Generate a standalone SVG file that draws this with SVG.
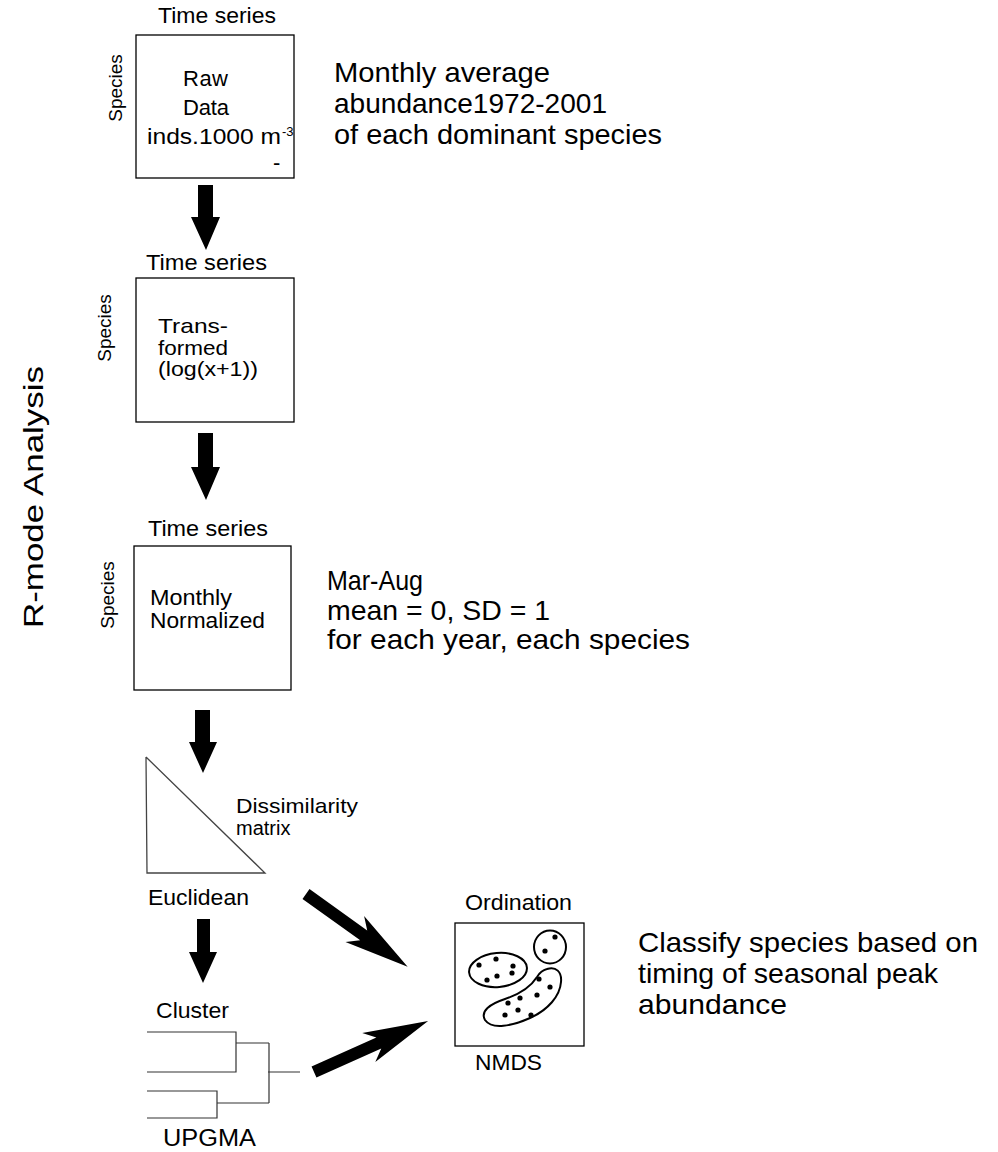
<svg xmlns="http://www.w3.org/2000/svg" width="998" height="1152" viewBox="0 0 998 1152">
<style>
text{font-family:"Liberation Sans",Arial,Helvetica,sans-serif;fill:#000}
.lbl{font-size:22px}
.tight{font-size:21px}
.big{font-size:28px}
.sp{font-size:19px}
.box{fill:none;stroke:#000;stroke-width:1.3}
.thin{fill:none;stroke:#333;stroke-width:1.2}
.blob{fill:none;stroke:#000;stroke-width:2}
.arr{fill:#000;stroke:none}
</style>
<rect width="998" height="1152" fill="#fff"/>

<g id="title">
<text transform="translate(43,497) rotate(-90)" text-anchor="middle" font-size="27" textLength="262" lengthAdjust="spacingAndGlyphs">R-mode Analysis</text>
</g>

<g id="raw">
<text class="lbl" x="158" y="23" textLength="118" lengthAdjust="spacingAndGlyphs">Time series</text>
<rect class="box" x="136" y="35" width="158" height="143"/>
<text class="sp" transform="translate(122,88) rotate(-90)" text-anchor="middle">Species</text>
<text class="lbl" x="183" y="86" font-size="21" textLength="45" lengthAdjust="spacing">Raw</text>
<text class="lbl" x="183" y="115" font-size="21" textLength="46" lengthAdjust="spacing">Data</text>
<text class="lbl" x="147" y="144" font-size="21" textLength="134" lengthAdjust="spacingAndGlyphs">inds.1000 m</text>
<text x="282" y="136" font-size="13">-3</text>
<text class="lbl" x="273" y="170" font-size="20">-</text>
</g>

<g id="monthly-note">
<text class="big" x="334" y="82" textLength="216" lengthAdjust="spacingAndGlyphs">Monthly average</text>
<text class="big" x="334" y="113" textLength="273" lengthAdjust="spacingAndGlyphs">abundance1972-2001</text>
<text class="big" x="334" y="144" textLength="328" lengthAdjust="spacingAndGlyphs">of each dominant species</text>
</g>

<g id="transformed">
<text class="lbl" x="146" y="270" textLength="121" lengthAdjust="spacingAndGlyphs">Time series</text>
<rect class="box" x="136" y="278" width="158" height="144"/>
<text class="sp" transform="translate(111,328) rotate(-90)" text-anchor="middle">Species</text>
<text class="tight" x="158" y="333" textLength="70" lengthAdjust="spacingAndGlyphs">Trans-</text>
<text class="tight" x="158" y="355" textLength="70" lengthAdjust="spacingAndGlyphs">formed</text>
<text class="tight" x="158" y="376" textLength="100" lengthAdjust="spacingAndGlyphs">(log(x+1))</text>
</g>

<g id="normalized">
<text class="lbl" x="148" y="536" textLength="120" lengthAdjust="spacingAndGlyphs">Time series</text>
<rect class="box" x="134" y="546" width="157" height="144"/>
<text class="sp" transform="translate(114,595) rotate(-90)" text-anchor="middle">Species</text>
<text class="lbl" x="150" y="605" textLength="82" lengthAdjust="spacingAndGlyphs">Monthly</text>
<text class="lbl" x="150" y="628" textLength="115" lengthAdjust="spacingAndGlyphs">Normalized</text>
</g>

<g id="norm-note">
<text class="big" x="327" y="590" textLength="96" lengthAdjust="spacingAndGlyphs">Mar-Aug</text>
<text class="big" x="327" y="620" textLength="223" lengthAdjust="spacingAndGlyphs">mean = 0, SD = 1</text>
<text class="big" x="327" y="649" textLength="363" lengthAdjust="spacingAndGlyphs">for each year, each species</text>
</g>

<g id="dissimilarity">
<polyline points="146,757 147,873 265,873 146,757" fill="none" stroke="#444" stroke-width="1.3"/>
<text class="tight" x="236" y="813" textLength="122" lengthAdjust="spacingAndGlyphs">Dissimilarity</text>
<text x="236" y="835" font-size="20">matrix</text>
<text class="lbl" x="148" y="905" textLength="101" lengthAdjust="spacingAndGlyphs">Euclidean</text>
</g>

<g id="cluster">
<text class="lbl" x="156" y="1018" textLength="73" lengthAdjust="spacingAndGlyphs">Cluster</text>
<path class="thin" d="M147,1032 H236 V1072 H147 M236,1043 H269 M147,1091 H217 V1118 H147 M217,1103 H269 M269,1043 V1103 M268,1072 H300"/>
<text x="163" y="1146" font-size="23" textLength="93" lengthAdjust="spacingAndGlyphs">UPGMA</text>
</g>

<g id="ordination">
<text class="lbl" x="465" y="910" textLength="107" lengthAdjust="spacingAndGlyphs">Ordination</text>
<rect class="box" x="455" y="923" width="129" height="123"/>
<ellipse class="blob" cx="550" cy="947" rx="16" ry="16.5"/>
<ellipse class="blob" cx="498" cy="970" rx="29" ry="17" transform="rotate(-5 498 970)"/>
<path class="blob" d="M547,969 C556,966 562,972 561,982 C560,996 548,1010 530,1018 C512,1026 492,1030 485,1020 C480,1011 490,1004 505,999 C520,994 530,988 537,977 C540,972 543,970 547,969 Z"/>
<g fill="#000">
<circle cx="555" cy="937" r="2.6"/><circle cx="545" cy="951" r="2.6"/>
<circle cx="479" cy="965" r="2.6"/><circle cx="496" cy="959" r="2.6"/><circle cx="513" cy="966" r="2.6"/><circle cx="512" cy="973" r="2.6"/><circle cx="497" cy="976" r="2.6"/><circle cx="487" cy="980" r="2.6"/>
<circle cx="539" cy="979" r="2.6"/><circle cx="550" cy="987" r="2.6"/><circle cx="537" cy="995" r="2.6"/><circle cx="520" cy="998" r="2.6"/><circle cx="508" cy="1003" r="2.6"/><circle cx="518" cy="1010" r="2.6"/><circle cx="505" cy="1015" r="2.6"/><circle cx="531" cy="1015" r="2.6"/>
</g>
<text class="lbl" x="475" y="1070" textLength="67" lengthAdjust="spacingAndGlyphs">NMDS</text>
</g>

<g id="classify-note">
<text class="big" x="638" y="952" textLength="340" lengthAdjust="spacingAndGlyphs">Classify species based on</text>
<text class="big" x="638" y="983" textLength="300" lengthAdjust="spacingAndGlyphs">timing of seasonal peak</text>
<text class="big" x="638" y="1014" textLength="149" lengthAdjust="spacingAndGlyphs">abundance</text>
</g>

<g id="connectors">
<polygon class="arr" points="198,185 213,185 213,217 220,217 206,250 191,217 198,217"/>
<polygon class="arr" points="198,433 213,433 213,467 220,467 206,500 191,467 198,467"/>
<polygon class="arr" points="195,710 210,710 210,742 217,742 203,773 189,742 195,742"/>
<polygon class="arr" points="197,919 210,919 210,952 217,952 203,983 189,952 197,952"/>
<polygon class="arr" transform="translate(306,894) rotate(35.6)" points="0,-6 71,-6 60,-16 125,0 60,16 71,6 0,6"/>
<polygon class="arr" transform="translate(314,1072) rotate(-24.1)" points="0,-6 71,-6 60,-16 125,0 60,16 71,6 0,6"/>
</g>
</svg>
